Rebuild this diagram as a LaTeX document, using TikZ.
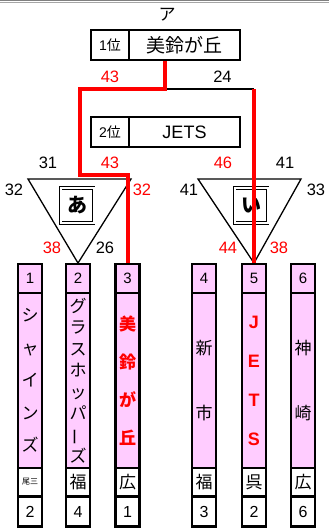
\documentclass[tikz,border=0pt]{standalone}
\usepackage{fontspec}
\setmainfont{Liberation Sans}
\newfontfamily\jp{Noto Sans CJK JP}
\definecolor{teampink}{RGB}{255,204,255}
\definecolor{winred}{RGB}{255,0,0}

\begin{document}
\begin{tikzpicture}[
    x=1pt, y=-1pt,
    teamcell/.style={draw, line width=2.4pt, inner sep=0pt, minimum width=24pt},
    numcell/.style={teamcell, fill=teampink, minimum height=28.5pt, font=\fontsize{15}{15}\selectfont},
    namecell/.style={teamcell, fill=teampink, minimum height=175pt, align=center, font=\jp\fontsize{17}{#1}\selectfont},
    prefcell/.style={teamcell, fill=white, minimum height=28.5pt, font=\jp\fontsize{17}{17}\selectfont},
    rankcell/.style={teamcell, fill=white, minimum height=30pt, font=\fontsize{16}{16}\selectfont},
    placebox/.style={draw, line width=2.4pt, inner sep=0pt, minimum height=30pt},
    score/.style={font=\fontsize{16.5}{16.5}\selectfont},
    blocktri/.style={draw, line width=1.3pt},
    blockmark/.style={draw, line width=0.9pt, double, double distance=2pt, fill=white, minimum width=33pt, minimum height=35pt, inner sep=0pt, font=\jp\bfseries\fontsize{20}{20}\selectfont},
    win/.style={winred, line width=4pt},
    lose/.style={line width=2pt}
]
    \useasboundingbox (0,0) rectangle (329,528);
    \draw[gray, line width=0.8pt] (0,0.6) -- (329,0.6);
    \draw[gray!70, line width=0.8pt] (0,2.8) -- (329,2.8);

    % Final places
    \node[font=\jp\fontsize{17}{17}\selectfont] (title) at (167,15) {ア};
    \node[placebox, minimum width=38pt, font=\fontsize{14}{14}\selectfont] (firstplace) at (110,45) {1\jp 位};
    \node[placebox, minimum width=111pt, font=\jp\fontsize{19}{19}\selectfont] (champ) at (184.5,45) {美鈴が丘};
    \node[placebox, minimum width=38pt, font=\fontsize{14}{14}\selectfont] (secondplace) at (110,132) {2\jp 位};
    \node[placebox, minimum width=111pt, font=\fontsize{18}{18}\selectfont] (runner) at (184.5,132) {JETS};

    % Teams
    \node[numcell] (n1) at (30,278.5) {1};
    \node[namecell=32.5pt] (t1) at (30,380.5) {シ\\ャ\\イ\\ン\\ズ};
    \node[prefcell, font=\jp\fontsize{8}{8}\selectfont] (p1) at (30,482) {尾三};
    \node[rankcell] (r1) at (30,511.5) {2};

    \node[numcell] (n2) at (78,278.5) {2};
    \node[namecell=21.5pt] (t2) at (78,380.5) {グ\\ラ\\ス\\ホ\\ッ\\パ\\\rotatebox[origin=c]{90}{ー}\\ズ};
    \node[prefcell] (p2) at (78,482) {福};
    \node[rankcell] (r2) at (78,511.5) {4};

    \node[numcell] (n3) at (127.5,278.5) {3};
    \node[namecell=38pt, text=winred, font=\jp\bfseries\fontsize{17}{38}\selectfont] (t3) at (127.5,380.5) {美\\鈴\\が\\丘};
    \node[prefcell] (p3) at (127.5,482) {広};
    \node[rankcell] (r3) at (127.5,511.5) {1};

    \node[numcell] (n4) at (204,278.5) {4};
    \node[namecell=65pt] (t4) at (204,380.5) {新\\市};
    \node[prefcell] (p4) at (204,482) {福};
    \node[rankcell] (r4) at (204,511.5) {3};

    \node[numcell] (n5) at (254,278.5) {5};
    \node[namecell=39pt, text=winred, font=\bfseries\fontsize{18}{39}\selectfont] (t5) at (254,380.5) {J\\E\\T\\S};
    \node[prefcell] (p5) at (254,482) {呉};
    \node[rankcell] (r5) at (254,511.5) {2};

    \node[numcell] (n6) at (303,278.5) {6};
    \node[namecell=65pt] (t6) at (303,380.5) {神\\崎};
    \node[prefcell] (p6) at (303,482) {広};
    \node[rankcell] (r6) at (303,511.5) {6};

    % Blocks
    \coordinate (aleft) at (28,179);
    \coordinate (aright) at (131,179);
    \coordinate (ileft) at (198,179);
    \coordinate (iright) at (301,179);
    \draw[blocktri] (aleft) -- (aright) -- (n2.north) -- cycle;
    \draw[blocktri] (ileft) -- (iright) -- (n5.north) -- cycle;
    \node[blockmark] (blocka) at (77,205.5) {あ};
    \node[blockmark] (blocki) at (251,205.5) {い};

    % Bracket lines
    \coordinate (final) at (165,89);
    \coordinate (aturn) at (80,175);
    \draw[lose] (final) -- (final -| n5.north);
    \draw[win] (final |- champ.south) -- (final) -| (aturn) -| (n3.north);
    \draw[win] (final -| n5.north) -- (n5.north);

    % Scores
    \node[score, text=winred] (sfa) at (110,77) {43};
    \node[score] (sfi) at (222.5,77) {24};
    \node[score] (sa1) at (48,163) {31};
    \node[score, text=winred] (sa2) at (110,163) {43};
    \node[score] (sa3) at (14,190) {32};
    \node[score, text=winred] (sa4) at (142,190) {32};
    \node[score, text=winred] (sa5) at (52,248) {38};
    \node[score] (sa6) at (105,248) {26};
    \node[score, text=winred] (si1) at (223,163) {46};
    \node[score] (si2) at (285,163) {41};
    \node[score] (si3) at (189,190) {41};
    \node[score] (si4) at (316,190) {33};
    \node[score, text=winred] (si5) at (228,248) {44};
    \node[score, text=winred] (si6) at (279,248) {38};
\end{tikzpicture}
\end{document}
